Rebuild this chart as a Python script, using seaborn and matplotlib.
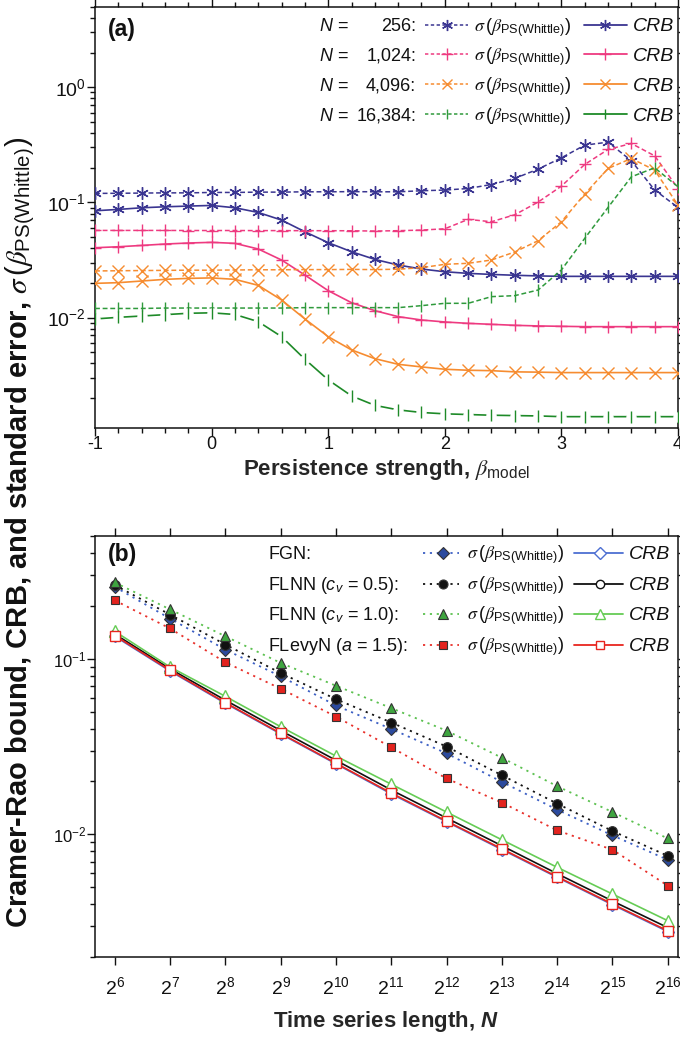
import numpy as np
import pandas as pd
import matplotlib
matplotlib.use("Agg")
import matplotlib.pyplot as plt
import seaborn as sns
from matplotlib.lines import Line2D
from matplotlib.ticker import (LogLocator, FixedLocator, FixedFormatter,
                               LogFormatterSciNotation, MultipleLocator,
                               NullFormatter, NullLocator)

# ---------------- data: panel (a) ----------------
beta_model = [-1.0, -0.8, -0.6, -0.4, -0.2, 0.0, 0.2, 0.4, 0.6, 0.8, 1.0, 1.2, 1.4,
              1.6, 1.8, 2.0, 2.2, 2.4, 2.6, 2.8, 3.0, 3.2, 3.4, 3.6, 3.8, 4.0]

sig_256 = [0.1197, 0.1200, 0.1205, 0.1210, 0.1210, 0.1220, 0.1220, 0.1228, 0.1228, 0.1236,
           0.1236, 0.1240, 0.1236, 0.1236, 0.1262, 0.1280, 0.1320, 0.1430, 0.1615, 0.1945,
           0.2437, 0.3140, 0.3335, 0.2297, 0.1280, 0.0904]
crb_256 = [0.0846, 0.0869, 0.0898, 0.0916, 0.0929, 0.0941, 0.0898, 0.0818, 0.0702, 0.0556,
           0.0447, 0.0373, 0.0320, 0.0286, 0.0264, 0.0250, 0.0242, 0.0237, 0.0233, 0.0230,
           0.0228, 0.0228, 0.0228, 0.0228, 0.0228, 0.0228]
sig_1024 = [0.0571, 0.0571, 0.0571, 0.0571, 0.0570, 0.0570, 0.0570, 0.0569, 0.0569, 0.0568,
            0.0568, 0.0567, 0.0564, 0.0568, 0.0575, 0.0590, 0.0712, 0.0679, 0.0781, 0.1006,
            0.1384, 0.2135, 0.2880, 0.3246, 0.2537, 0.1320]
crb_1024 = [0.0404, 0.0412, 0.0423, 0.0435, 0.0444, 0.0450, 0.0441, 0.0394, 0.0316, 0.0234,
            0.01713, 0.01347, 0.01148, 0.01019, 0.00953, 0.00916, 0.00891, 0.00874, 0.00857,
            0.00846, 0.00840, 0.00834, 0.00834, 0.00834, 0.00834, 0.00834]
sig_4096 = [0.0254, 0.0255, 0.0256, 0.0257, 0.0258, 0.0258, 0.0259, 0.0260, 0.0260, 0.0261,
            0.0261, 0.0262, 0.0261, 0.0263, 0.0271, 0.0290, 0.0296, 0.0316, 0.0371, 0.0465,
            0.0679, 0.1180, 0.1970, 0.2406, 0.1905, 0.0947]
crb_4096 = [0.01982, 0.0201, 0.02077, 0.02147, 0.0219, 0.0221, 0.02147, 0.01905, 0.01422,
            0.00973, 0.00683, 0.00524, 0.0044, 0.00393, 0.00373, 0.00356, 0.00349, 0.00346,
            0.00338, 0.00336, 0.00333, 0.00333, 0.00333, 0.00333, 0.00333, 0.00333]
sig_16384 = [0.0120, 0.0120, 0.0120, 0.0121, 0.0121, 0.0121, 0.0121, 0.0121, 0.0121, 0.0122,
             0.0122, 0.0122, 0.0122, 0.0122, 0.01269, 0.0133, 0.0133, 0.0152, 0.0155, 0.01735,
             0.0259, 0.0487, 0.0904, 0.1668, 0.1997, 0.1367]
crb_16384 = [0.00973, 0.01005, 0.01032, 0.0106, 0.0109, 0.0110, 0.01064, 0.00922, 0.00683,
             0.00435, 0.00288, 0.00209, 0.00173, 0.00158, 0.00150, 0.00146, 0.00144, 0.00142,
             0.00141, 0.00140, 0.00138, 0.00138, 0.00138, 0.00138, 0.00138, 0.00138]

n_labels_a = ["256", "1,024", "4,096", "16,384"]

# ---------------- data: panel (b) ----------------
N_len = [64, 128, 256, 512, 1024, 2048, 4096, 8192, 16384, 32768, 65536]
N_tick_labels = [r"$\mathdefault{2^{6}}$", r"$\mathdefault{2^{7}}$", r"$\mathdefault{2^{8}}$",
                 r"$\mathdefault{2^{9}}$", r"$\mathdefault{2^{10}}$", r"$\mathdefault{2^{11}}$",
                 r"$\mathdefault{2^{12}}$", r"$\mathdefault{2^{13}}$", r"$\mathdefault{2^{14}}$",
                 r"$\mathdefault{2^{15}}$", r"$\mathdefault{2^{16}}$"]

sig_fgn = [0.256, 0.169, 0.1125, 0.0793, 0.0541, 0.0398, 0.0289, 0.0199, 0.01383, 0.00987, 0.00717]
sig_flnn05 = [0.262, 0.178, 0.1202, 0.0828, 0.0588, 0.0433, 0.0316, 0.0217, 0.01497, 0.01045, 0.00755]
sig_flnn10 = [0.271, 0.1905, 0.134, 0.0945, 0.0701, 0.0523, 0.0389, 0.0273, 0.0188, 0.0134, 0.00948]
sig_flevy = [0.2145, 0.1484, 0.0953, 0.0674, 0.0468, 0.0313, 0.0208, 0.01517, 0.01054, 0.00818, 0.00511]

crb_fgn = [0.134, 0.0850, 0.0557, 0.0373, 0.0252, 0.0170, 0.0118, 0.0082, 0.0057, 0.00398, 0.0028]
crb_flnn05 = [0.138, 0.0875, 0.0580, 0.0390, 0.0264, 0.0179, 0.0124, 0.00862, 0.00598, 0.00418, 0.00295]
crb_flnn10 = [0.143, 0.0896, 0.0610, 0.0410, 0.0279, 0.0193, 0.0134, 0.00932, 0.0065, 0.00458, 0.00323]
crb_flevy = [0.1353, 0.0858, 0.0562, 0.0376, 0.0254, 0.0172, 0.0119, 0.00828, 0.00575, 0.00402, 0.00283]

labels_b = ["FGN:", r"FLNN ($\mathtt{c}_{\mathtt{v}}$ = 0.5):",
            r"FLNN ($\mathtt{c}_{\mathtt{v}}$ = 1.0):", r"FLevyN ($\mathtt{a}$ = 1.5):"]

# ---------------- style ----------------
sns.set_style("ticks")
plt.rcParams['font.family'] = ['Liberation Sans', 'DejaVu Sans']
plt.rcParams['mathtext.fontset'] = 'custom'
plt.rcParams['mathtext.rm'] = 'Liberation Sans'
plt.rcParams['mathtext.it'] = 'STIXGeneral:italic'
plt.rcParams['mathtext.bf'] = 'Liberation Sans:bold'
plt.rcParams['mathtext.sf'] = 'Liberation Sans'
plt.rcParams['mathtext.tt'] = 'Liberation Sans:italic'
plt.rcParams['mathtext.cal'] = 'Liberation Sans:bold:italic'
plt.rcParams['axes.unicode_minus'] = False
plt.rcParams['text.color'] = '#111111'

W, H = 680, 1037
fig = plt.figure(figsize=(W / 100, H / 100), dpi=100)


def fx(px):
    return px / W


def fy(py):
    return 1 - py / H


def style_axes(ax):
    for s in ax.spines.values():
        s.set_linewidth(1.1)
        s.set_color('#111111')
        s.set_visible(True)
    ax.tick_params(which='both', direction='out', top=True, right=True,
                   colors='#111111', width=1.0)
    ax.tick_params(which='major', length=5.5)
    ax.tick_params(which='minor', length=3.5)


# ======================= panel (a) =======================
ax1 = fig.add_axes([fx(95), fy(428), (678 - 95) / W, (428 - 6.7) / H])
ax1.set_yscale('log')

cols_a = ['#3a3591', '#ee3a80', '#f68c30', '#2f9a3c']
crb_cols_a = ['#3a3591', '#ee3a80', '#f68c30', '#1e8a28']
marks_a = [(6, 2, 0), '+', 'x', '|']
ms_a = [9, 9, 8, 8]
sig_a = [sig_256, sig_1024, sig_4096, sig_16384]
crb_a = [crb_256, crb_1024, crb_4096, crb_16384]

for i in range(4):
    sns.lineplot(x=beta_model, y=sig_a[i], ax=ax1, color=cols_a[i],
                 linestyle=(0, (3.2, 1.8)), linewidth=1.1, marker=marks_a[i],
                 markersize=ms_a[i], markeredgecolor=cols_a[i],
                 markeredgewidth=1.0, zorder=3)
    if i < 3:
        sns.lineplot(x=beta_model, y=crb_a[i], ax=ax1, color=crb_cols_a[i],
                     linestyle='-', linewidth=1.2, marker=marks_a[i],
                     markersize=ms_a[i], markeredgecolor=crb_cols_a[i],
                     markeredgewidth=1.0, zorder=3)
    else:
        sns.lineplot(x=beta_model, y=crb_a[i], ax=ax1, color=crb_cols_a[i],
                     linestyle='-', linewidth=1.2, zorder=3)
        ax1.plot(beta_model, crb_a[i], linestyle='none', marker='o', markersize=6.5,
                 markerfacecolor='white', markeredgecolor='white', zorder=3.5)
        ax1.plot(beta_model, crb_a[i], linestyle='none', marker='|', markersize=ms_a[i],
                 markeredgecolor=crb_cols_a[i], markeredgewidth=1.0, zorder=4)

ax1.set_xlim(-1, 4)
ax1.set_ylim(0.0011, 5)
ax1.xaxis.set_major_locator(FixedLocator([-1, 0, 1, 2, 3, 4]))
ax1.xaxis.set_major_formatter(FixedFormatter(["-1", "0", "1", "2", "3", "4"]))
ax1.xaxis.set_minor_locator(MultipleLocator(0.2))
ax1.yaxis.set_major_locator(LogLocator(base=10, numticks=10))
ax1.yaxis.set_minor_locator(LogLocator(base=10, subs=np.arange(2, 10), numticks=20))
ax1.yaxis.set_major_formatter(LogFormatterSciNotation())
ax1.yaxis.set_minor_formatter(NullFormatter())
style_axes(ax1)
ax1.tick_params(axis='x', labelsize=13, pad=0.5)
ax1.tick_params(axis='y', labelsize=14, pad=1)
ax1.set_xlabel(r"Persistence strength, $\beta_{\mathsf{model}}$", fontsize=16,
               fontweight='bold')
ax1.set_ylabel("")
ax1.xaxis.set_label_coords(0.5, -0.098)
ax1.xaxis.label.set_va('center')

fig.text(fx(108), fy(29), "(a)", fontsize=16.5, fontweight='bold', va='center', ha='left')

# legend (a)
rows_a = [25, 54.3, 84.3, 114.3]
sig_txt = r"$\sigma\,(\beta_{\mathsf{PS(Whittle)}})$"
for i in range(4):
    yb = fy(rows_a[i] + 6.3)
    yc = fy(rows_a[i])
    fig.text(fx(319), yb, r"$\mathtt{N}$ =", fontsize=13, va='baseline', ha='left')
    fig.text(fx(416), yb, n_labels_a[i] + ":", fontsize=13, va='baseline', ha='right')
    fig.add_artist(Line2D([fx(425), fx(468)], [yc, yc], transform=fig.transFigure,
                          color=cols_a[i], linestyle=(0, (2.2, 1.6)), linewidth=1.1))
    fig.add_artist(Line2D([fx(447)], [yc], transform=fig.transFigure, linestyle='none',
                          marker=marks_a[i], markersize=ms_a[i] - 1,
                          markeredgecolor=cols_a[i], color=cols_a[i], markeredgewidth=1.0))
    fig.text(fx(474), yb, sig_txt, fontsize=13, va='baseline', ha='left')
    fig.add_artist(Line2D([fx(584), fx(627)], [yc, yc], transform=fig.transFigure,
                          color=crb_cols_a[i], linestyle='-', linewidth=1.3))
    fig.add_artist(Line2D([fx(605)], [yc], transform=fig.transFigure, linestyle='none',
                          marker=marks_a[i], markersize=ms_a[i] - 1,
                          markeredgecolor=crb_cols_a[i], color=crb_cols_a[i],
                          markeredgewidth=1.0))
    fig.text(fx(633), yb, "CRB", fontsize=14, style='italic', va='baseline', ha='left')

# ======================= panel (b) =======================
ax2 = fig.add_axes([fx(95), fy(957.3), (678 - 95) / W, (957.3 - 535.7) / H])
ax2.set_xscale('log', base=2)
ax2.set_yscale('log')

sig_b = [sig_fgn, sig_flnn05, sig_flnn10, sig_flevy]
crb_b = [crb_fgn, crb_flnn05, crb_flnn10, crb_flevy]
sig_line_cols = ['#3c5fc4', '#111111', '#5cc150', '#e8302a']
sig_fill_cols = ['#2b4a9e', '#111111', '#3fa540', '#e3231e']
crb_cols_b = ['#4d6fd2', '#111111', '#66cc55', '#e8251f']
marks_b = ['D', 'o', '^', 's']
ms_b_fill = [6.2, 7, 7.5, 6.2]
ms_b_open = [6.5, 6.5, 8, 6.8]

for i in range(4):
    sns.lineplot(x=N_len, y=crb_b[i], ax=ax2, color=crb_cols_b[i], linestyle='-',
                 linewidth=1.2, marker=marks_b[i], markersize=ms_b_open[i],
                 markerfacecolor='white', markeredgecolor=crb_cols_b[i],
                 markeredgewidth=1.0, zorder=3 + i * 0.1)
for i in range(4):
    sns.lineplot(x=N_len, y=sig_b[i], ax=ax2, color=sig_line_cols[i],
                 linestyle=(0, (1.2, 2.6)), linewidth=1.3, marker=marks_b[i],
                 markersize=ms_b_fill[i], markerfacecolor=sig_fill_cols[i],
                 markeredgecolor='#333333', markeredgewidth=0.8, zorder=4 + i * 0.1)

ax2.set_xlim(50, 74500)
ax2.set_ylim(0.002, 0.5)
ax2.xaxis.set_major_locator(FixedLocator(N_len))
ax2.xaxis.set_major_formatter(FixedFormatter(N_tick_labels))
ax2.xaxis.set_minor_locator(NullLocator())
ax2.yaxis.set_major_locator(LogLocator(base=10, numticks=10))
ax2.yaxis.set_minor_locator(LogLocator(base=10, subs=np.arange(2, 10), numticks=20))
ax2.yaxis.set_major_formatter(LogFormatterSciNotation())
ax2.yaxis.set_minor_formatter(NullFormatter())
style_axes(ax2)
ax2.tick_params(axis='x', labelsize=14, pad=8)
ax2.tick_params(axis='y', labelsize=12, pad=1)
ax2.set_xlabel(r"Time series length, $\mathcal{N}$", fontsize=16, fontweight='bold')
ax2.set_ylabel("")
ax2.xaxis.set_label_coords(0.5, -0.153)
ax2.xaxis.label.set_va('center')

fig.text(fx(108), fy(555), "(b)", fontsize=16.5, fontweight='bold', va='center', ha='left')

# legend (b)
rows_b = [553, 584, 614, 645]
for i in range(4):
    yb = fy(rows_b[i] + 6.0)
    yc = fy(rows_b[i])
    fig.text(fx(268), yb, labels_b[i], fontsize=13, va='baseline', ha='left')
    fig.add_artist(Line2D([fx(423), fx(459)], [yc, yc], transform=fig.transFigure,
                          color=sig_line_cols[i], linestyle=(0, (1.2, 2.6)), linewidth=1.3))
    fig.add_artist(Line2D([fx(443)], [yc], transform=fig.transFigure, linestyle='none',
                          marker=marks_b[i], markersize=ms_b_fill[i] - 0.5,
                          markerfacecolor=sig_fill_cols[i], markeredgecolor='#333333',
                          markeredgewidth=0.8))
    fig.text(fx(467), yb, sig_txt, fontsize=13, va='baseline', ha='left')
    fig.add_artist(Line2D([fx(574), fx(623)], [yc, yc], transform=fig.transFigure,
                          color=crb_cols_b[i], linestyle='-', linewidth=1.3))
    fig.add_artist(Line2D([fx(600)], [yc], transform=fig.transFigure, linestyle='none',
                          marker=marks_b[i], markersize=ms_b_open[i] - 0.5,
                          markerfacecolor='white', markeredgecolor=crb_cols_b[i],
                          markeredgewidth=1.0))
    fig.text(fx(629), yb, "CRB", fontsize=14, style='italic', va='baseline', ha='left')

# shared y label
fig.text(fx(20), fy(532),
         r"Cramer-Rao bound, CRB, and standard error, $\sigma\,(\beta_{\mathsf{PS(Whittle)}})$",
         rotation=90, fontsize=21, fontweight='bold', ha='center', va='center')

fig.savefig("out.png", dpi=100)
